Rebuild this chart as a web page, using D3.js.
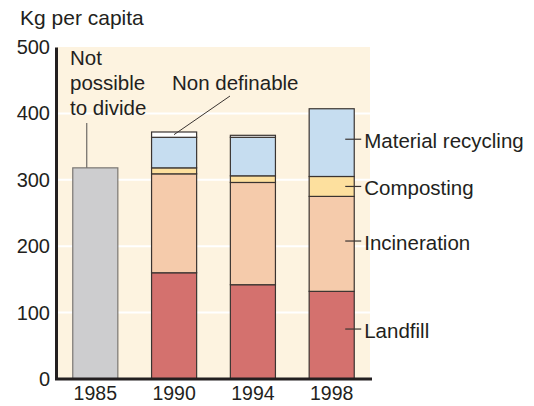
<!DOCTYPE html>
<html><head><meta charset="utf-8">
<script src="https://cdn.jsdelivr.net/npm/d3@7/dist/d3.min.js"></script>
<style>body{margin:0;background:#fff}svg{display:block}text{font-family:"Liberation Sans",Arial,sans-serif;fill:#231f20}</style>
</head><body><svg id="c" width="534" height="406"></svg>
<script>
const years = ["1985","1990","1994","1998"];
const series = ["Landfill","Incineration","Composting","Material recycling","Non definable"];
const landfill    = [0,160,142,132];
const incineration= [0,149,154,143];
const composting  = [0,9,10,30];
const recycling   = [0,46,58,102];
const nonDefinable= [0,8,3,0];
const undivided   = [318,0,0,0];
const yTicks = [0,100,200,300,400,500];
const colors = ["#d4716e","#f5cbab","#fde09e","#c6ddf0","#ffffff"];
const greyColor = "#cdcdcf";

const svg = d3.select("#c");
const x = d3.scaleBand().domain(years).range([57,370]).paddingInner(0.428).paddingOuter(0.2);
const y = d3.scaleLinear().domain([0,500]).range([379,47]);
const FONT = "'Liberation Sans',Arial,sans-serif";

// background
svg.append("rect").attr("x",57).attr("y",y(500)).attr("width",370-57).attr("height",y(0)-y(500)).attr("fill","#fdf3e0");
// gridlines
svg.selectAll(".g").data(yTicks.filter(d=>d>0&&d<500)).join("line")
  .attr("x1",57).attr("x2",370).attr("y1",d=>y(d)).attr("y2",d=>y(d))
  .attr("stroke","#fff").attr("stroke-width",2);

const rows = years.map((yr,i)=>({year:yr, vals:[landfill[i],incineration[i],composting[i],recycling[i],nonDefinable[i]]}));
const stack = d3.stack().keys(d3.range(5)).value((d,k)=>d.vals[k]);
const stacked = stack(rows);

// grey undivided bar
svg.selectAll(".u").data(years.map((yr,i)=>({yr,v:undivided[i]})).filter(d=>d.v>0)).join("rect")
  .attr("x",d=>x(d.yr)).attr("width",x.bandwidth()).attr("y",d=>y(d.v)).attr("height",d=>y(0)-y(d.v))
  .attr("fill",greyColor).attr("stroke","#7a7672").attr("stroke-width",1.2);

stacked.forEach((layer,k)=>{
  svg.selectAll(".s"+k).data(layer.filter(d=>d[1]-d[0]>0)).join("rect")
    .attr("x",d=>x(d.data.year)).attr("width",x.bandwidth())
    .attr("y",d=>y(d[1])).attr("height",d=>y(d[0])-y(d[1]))
    .attr("fill",colors[k]).attr("stroke","#3a3431").attr("stroke-width",1.2);
});

// axes
const yAxis = svg.append("g").attr("transform","translate(56,0)")
  .call(d3.axisLeft(y).tickValues(yTicks).tickSize(0).tickPadding(6));
yAxis.select(".domain").attr("stroke","#231f20").attr("stroke-width",3);
yAxis.selectAll("text").attr("font-size",20).style("font-family",FONT).attr("fill","#231f20");
const xAxis = svg.append("g").attr("transform","translate(0,379)")
  .call(d3.axisBottom(x).tickSize(0).tickPadding(7));
xAxis.select(".domain").attr("d","M55,0H372").attr("stroke","#231f20").attr("stroke-width",3);
xAxis.selectAll("text").attr("font-size",19.5).style("font-family",FONT).attr("fill","#231f20");

svg.append("text").attr("x",20).attr("y",25).attr("font-size",21).text("Kg per capita");

// annotations
const bw = x.bandwidth();
const nt = svg.append("text").attr("x",70).attr("font-size",20.5);
["Not","possible","to divide"].forEach((t,i)=>nt.append("tspan").attr("x",70).attr("y",65+i*25).text(t));
svg.append("line").attr("x1",x("1985")+bw*0.31).attr("x2",x("1985")+bw*0.31).attr("y1",123).attr("y2",y(undivided[0]))
  .attr("stroke","#6e6a66").attr("stroke-width",1.2);
svg.append("text").attr("x",172).attr("y",90).attr("font-size",20.5).text("Non definable");
svg.append("line").attr("x1",230).attr("y1",96).attr("x2",174).attr("y2",y(landfill[1]+incineration[1]+composting[1]+recycling[1]+nonDefinable[1]/2))
  .attr("stroke","#3a3431").attr("stroke-width",1);

// right labels
const last = 3;
const lx = x("1998")+bw*0.8;
const cum = [0, landfill[last], landfill[last]+incineration[last], landfill[last]+incineration[last]+composting[last]];
const segs = [landfill[last], incineration[last], composting[last], recycling[last]];
const fracs = [0.57,0.53,0.5,0.55];
series.slice(0,4).forEach((name,k)=>{
  const yy = y(cum[k]+segs[k]*fracs[k]);
  svg.append("line").attr("x1",lx).attr("x2",lx+16).attr("y1",yy).attr("y2",yy).attr("stroke","#3a3431").attr("stroke-width",1.2);
  svg.append("text").attr("x",lx+19).attr("y",yy+8.5).attr("font-size",20.5).text(name);
});
</script></body></html>
